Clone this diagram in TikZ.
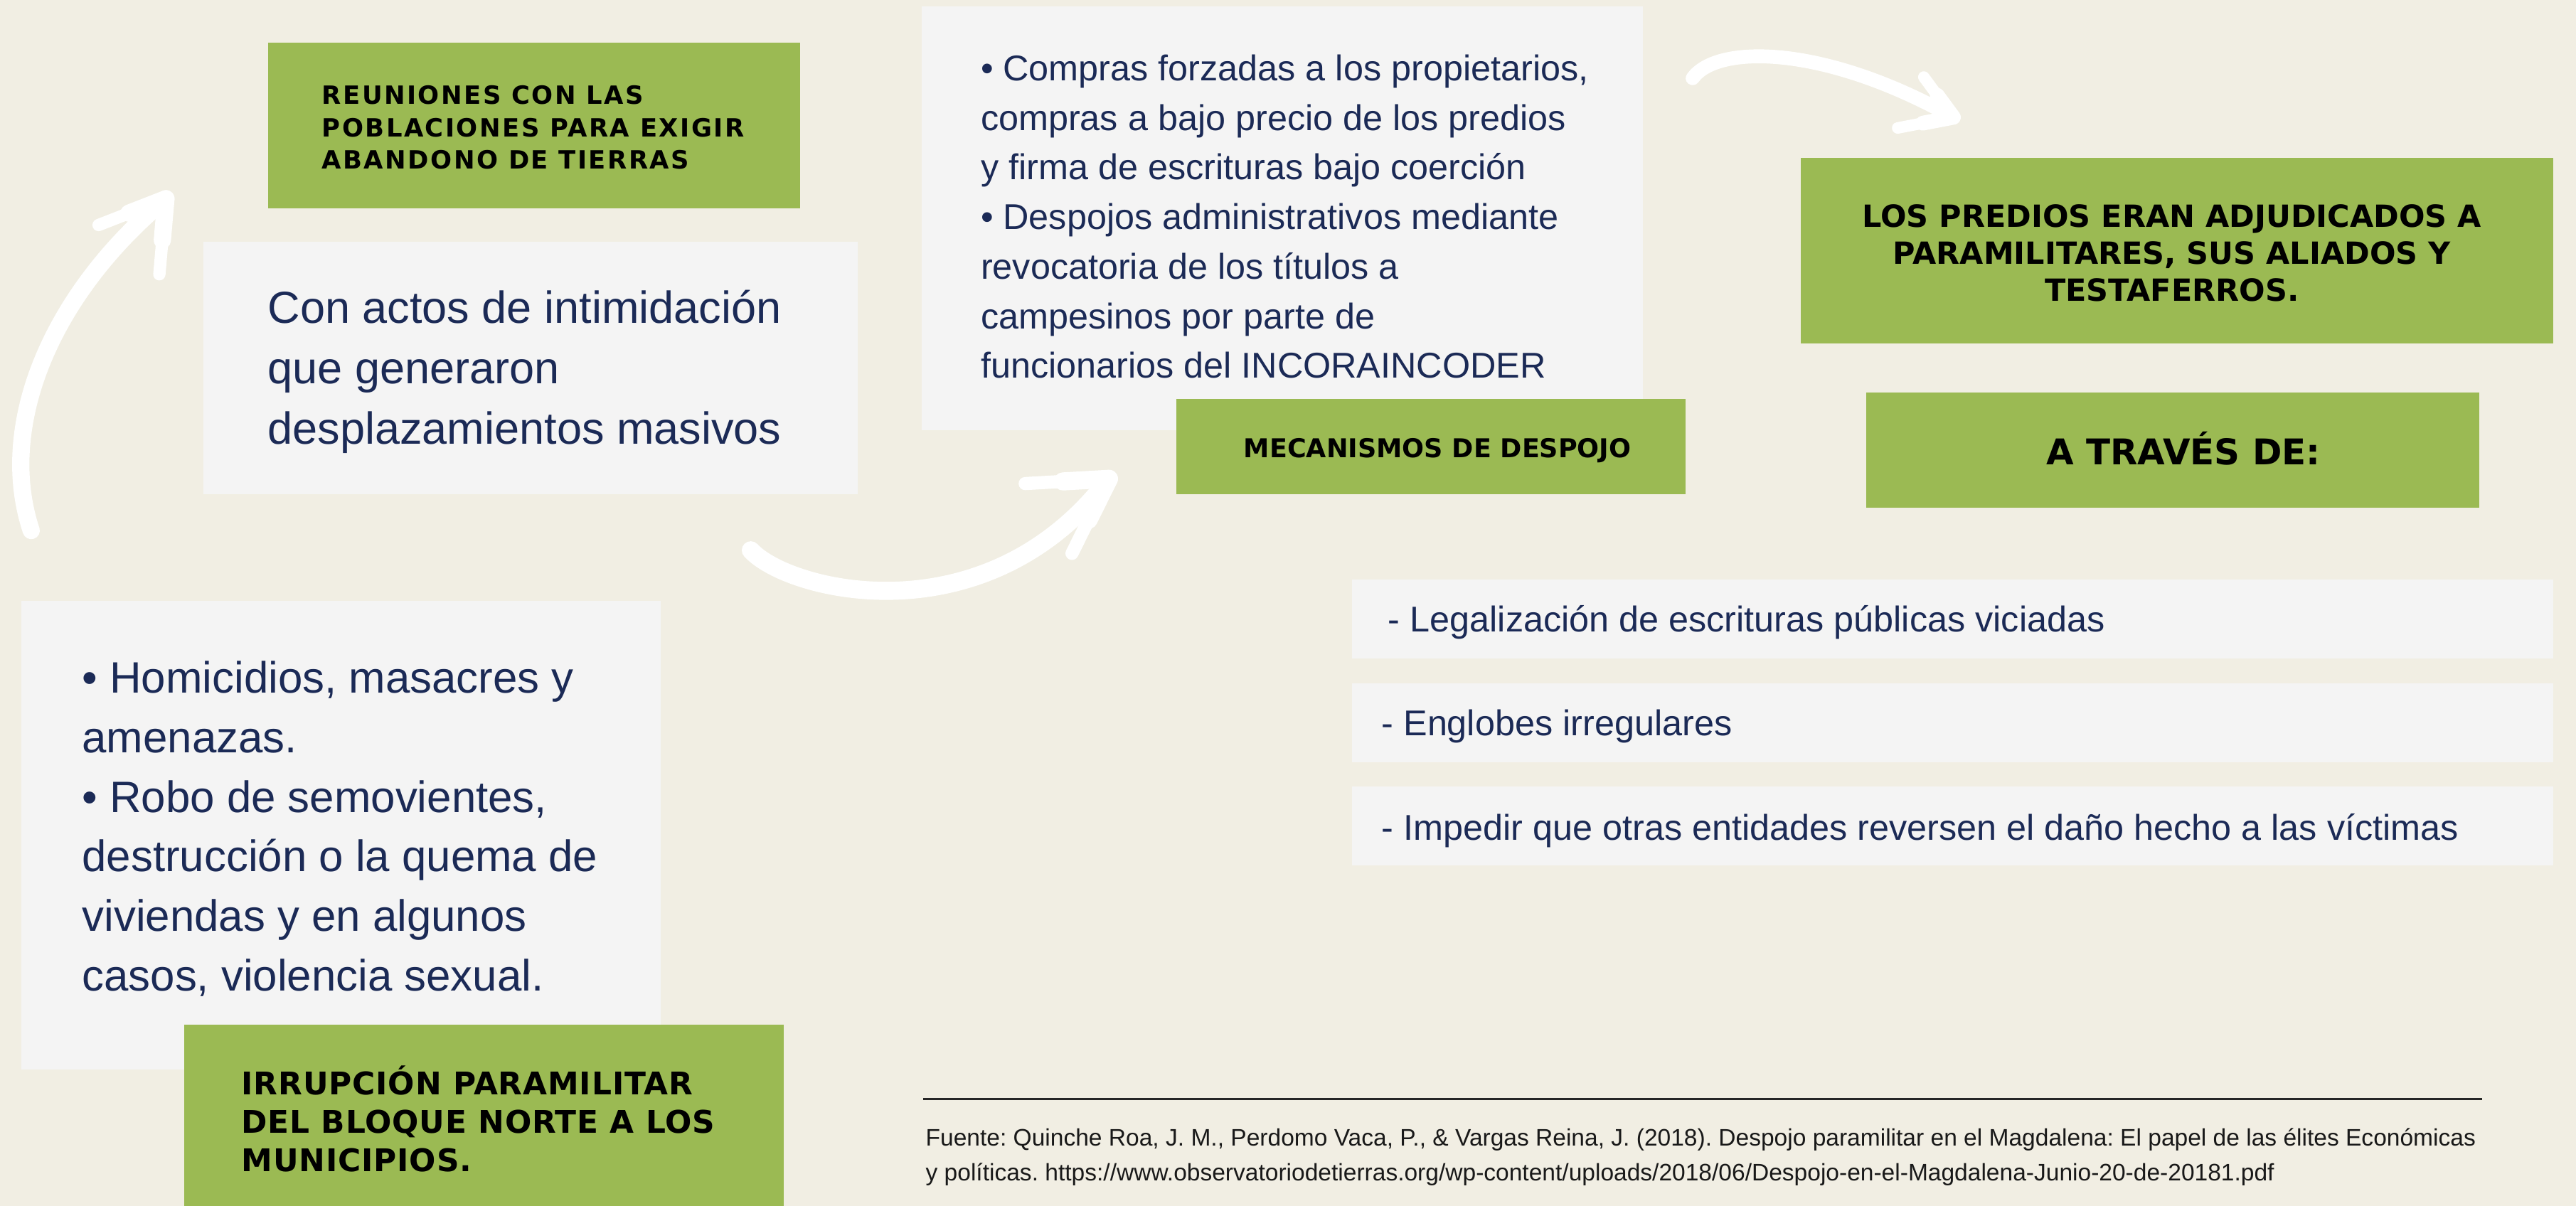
\documentclass[tikz,border=0pt]{standalone}
\usepackage{fontspec}
\usetikzlibrary{calc}
\setmainfont{Liberation Sans}
\newfontfamily\bodyfont{Liberation Sans}
\newfontfamily\headA{DejaVu Sans}[LetterSpace=7]
\newfontfamily\headB{DejaVu Sans}
\newfontfamily\headC{DejaVu Sans}[LetterSpace=2]
\definecolor{bg}{HTML}{F1EEE3}
\definecolor{grn}{HTML}{9BBA53}
\definecolor{pale}{HTML}{F4F4F4}
\definecolor{navy}{HTML}{1B2A56}
\tikzset{
  box/.style={inner sep=0pt, outer sep=0pt, anchor=north west, draw=none},
  greenbox/.style={box, fill=grn},
  palebox/.style={box, fill=pale},
  body/.style={inner sep=0pt, outer sep=0pt, anchor=north west, align=left, text=navy},
  bodyline/.style={inner sep=0pt, outer sep=0pt, anchor=base west, text=navy},
  head/.style={inner sep=0pt, outer sep=0pt, text=black},
  brush/.style={draw=white, line cap=round, line join=round},
}
\begin{document}
\frenchspacing
\begin{tikzpicture}[x=1pt,y=-1pt]
\fill[bg] (0,0) rectangle (1568,734);
\useasboundingbox (0,0) rectangle (1568,734);

% boxes
\node[greenbox, minimum width=324pt, minimum height=101pt] (reun) at (163,26) {};
\node[palebox, minimum width=398pt, minimum height=154pt] (actos) at (124,147) {};
\node[palebox, minimum width=439pt, minimum height=258pt] (compras) at (561,4) {};
\node[greenbox, minimum width=310pt, minimum height=58pt] (meca) at (716,243) {};
\node[greenbox, minimum width=458pt, minimum height=113pt] (predios) at (1096,96) {};
\node[greenbox, minimum width=373pt, minimum height=70pt] (traves) at (1136,239) {};
\node[palebox, minimum width=731pt, minimum height=48pt] (s1) at (823,353) {};
\node[palebox, minimum width=731pt, minimum height=48pt] (s2) at (823,416) {};
\node[palebox, minimum width=731pt, minimum height=48pt] (s3) at (823,479) {};
\node[palebox, minimum width=389pt, minimum height=285pt] (homi) at (13,366) {};
\node[greenbox, minimum width=365pt, minimum height=112pt] (irru) at (112,624) {};

% texts in green boxes
\node[head, anchor=north west, align=left, font=\headA\bfseries\fontsize{15.3}{19.6}\selectfont] (reunT) at (196,49.8)
  {\strut REUNIONES CON LAS\\POBLACIONES PARA EXIGIR\\ABANDONO DE TIERRAS};
\node[head, anchor=base, font=\headB\bfseries\fontsize{15.8}{19}\selectfont] (mecaT) at (875,278.5)
  {MECANISMOS DE DESPOJO};
\node[head, anchor=north, align=center, font=\headB\bfseries\fontsize{18.6}{22.6}\selectfont] (prediosT) at (1322,122.4)
  {\strut LOS PREDIOS ERAN ADJUDICADOS A\\PARAMILITARES, SUS ALIADOS Y\\TESTAFERROS.};
\node[head, anchor=base, font=\headB\bfseries\fontsize{21.6}{26}\selectfont] (travesT) at (1329,282.8)
  {A TRAVÉS DE:};
\node[head, anchor=north west, align=left, font=\headC\bfseries\fontsize{19}{23.4}\selectfont] (irruT) at (147,648.8)
  {\strut IRRUPCIÓN PARAMILITAR\\DEL BLOQUE NORTE A LOS\\MUNICIPIOS.};

% texts in pale boxes
\node[body, font=\bodyfont\fontsize{27.3}{36.8}\selectfont] (actosT) at (163,171.2)
  {\strut Con actos de intimidación\\que generaron\\desplazamientos masivos};
\node[body, font=\bodyfont\fontsize{21.8}{30.2}\selectfont] (comprasT) at (597,27.9)
  {\strut • Compras forzadas a los propietarios,\\compras a bajo precio de los predios\\y firma de escrituras bajo coerción\\• Despojos administrativos mediante\\revocatoria de los títulos a\\campesinos por parte de\\funcionarios del INCORAINCODER};
\node[body, font=\bodyfont\fontsize{26.75}{36.2}\selectfont] (homiT) at (50,396.7)
  {\strut • Homicidios, masacres y\\amenazas.\\• Robo de semovientes,\\destrucción o la quema de\\viviendas y en algunos\\casos, violencia sexual.};
\node[bodyline, font=\bodyfont\fontsize{21.8}{26}\selectfont] (s1T) at (845,384.5)
  {- Legalización de escrituras públicas viciadas};
\node[bodyline, font=\bodyfont\fontsize{21.8}{26}\selectfont] (s2T) at (841,448)
  {- Englobes irregulares};
\node[bodyline, font=\bodyfont\fontsize{21.8}{26}\selectfont] (s3T) at (841,511.6)
  {- Impedir que otras entidades reversen el daño hecho a las víctimas};

% footer
\coordinate (ruleL) at (562,669);
\coordinate (ruleR) at (1511,669);
\draw[line width=1.4pt, black!85] (ruleL) -- (ruleR);
\node[body, text=black!90, font=\bodyfont\fontsize{14.52}{20.9}\selectfont] (fuente) at (563.5,683.1)
  {\strut Fuente: Quinche Roa, J. M., Perdomo Vaca, P., \& Vargas Reina, J. (2018). Despojo paramilitar en el Magdalena: El papel de las élites Económicas\\y políticas. https://www.observatoriodetierras.org/wp-content/uploads/2018/06/Despojo-en-el-Magdalena-Junio-20-de-20181.pdf};

% arrows
\coordinate (aS) at (19,323);
\coordinate (aT) at (101,121);
\coordinate (aB1) at (60,137);
\coordinate (aB2) at (97,167);
\draw[brush, line width=10.5pt] (aS) .. controls (-2,260) and (30,180) .. (aT);
\draw[brush, line width=7.5pt] (aB1) -- (aT) -- (aB2);
\draw[brush, line width=10.5pt] ($(aT)!0.55!(aB1)$) -- (aT) -- ($(aT)!0.55!(aB2)$);

\coordinate (bS) at (457,335);
\coordinate (bT) at (675,291.5);
\coordinate (bB1) at (624,294.4);
\coordinate (bB2) at (652.5,336.9);
\draw[brush, line width=11pt] (bS) .. controls (480,360) and (600,390) .. (bT);
\draw[brush, line width=8pt] (bB1) -- (bT) -- (bB2);
\draw[brush, line width=11pt] ($(bT)!0.55!(bB1)$) -- (bT) -- ($(bT)!0.55!(bB2)$);

\coordinate (cS) at (1030.3,47.6);
\coordinate (cT) at (1189,71.4);
\coordinate (cB1) at (1171,46.9);
\coordinate (cB2) at (1155.1,77.9);
\draw[brush, line width=8.5pt] (cS) .. controls (1045,27) and (1110,27) .. (cT);
\draw[brush, line width=7pt] (cB1) -- (cT) -- (cB2);
\draw[brush, line width=9pt] ($(cT)!0.55!(cB1)$) -- (cT) -- ($(cT)!0.55!(cB2)$);
\end{tikzpicture}
\end{document}
